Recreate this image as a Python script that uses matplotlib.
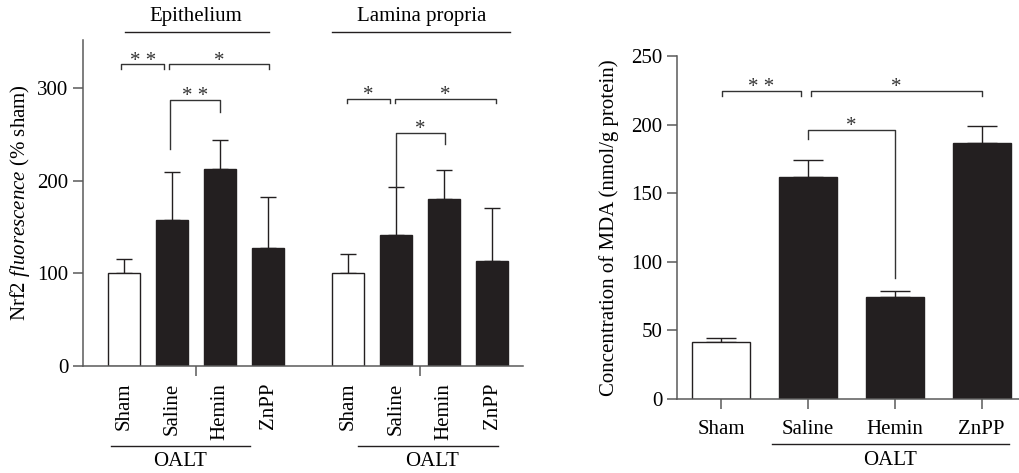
import matplotlib
matplotlib.use("Agg")
import matplotlib.pyplot as plt
import matplotlib.transforms as mtransforms

plt.rcParams['font.family'] = ['Liberation Serif', 'DejaVu Serif']
plt.rcParams['mathtext.fontset'] = 'custom'
plt.rcParams['mathtext.rm'] = 'Liberation Serif'
plt.rcParams['mathtext.it'] = 'Liberation Serif:italic'

# ---------------- data ----------------
groups = ["Sham", "Saline", "Hemin", "ZnPP"]
regions = ["Epithelium", "Lamina propria"]
epi_mean = [100, 158, 212.5, 127.5]
epi_err = [16, 51, 31.5, 55.5]
lp_mean = [100, 141, 180, 113.5]
lp_err = [20.5, 52, 31.5, 57]
mda_mean = [41.8, 162, 74, 186.5]
mda_err = [3, 12.3, 4.5, 12.7]
bar_colors = ["white", "#231f20", "#231f20", "#231f20"]

DARK = "#231f20"
SPINE = "#5a5a5a"
FS = 15

fig = plt.figure(figsize=(10.19, 4.73), dpi=100)

# ---------------- left panel ----------------
axL = fig.add_axes([83/1019, 1-366/473, 440/1019, 326/473])
grp_offset = 4.667
xs1 = [0, 1, 2, 3]
xs2 = [x + grp_offset for x in xs1]
w = 0.67
for xs, m, e in [(xs1, epi_mean, epi_err), (xs2, lp_mean, lp_err)]:
    axL.bar(xs, m, width=w, color=bar_colors, edgecolor=DARK, linewidth=1.0, zorder=2)
    axL.errorbar(xs, m, yerr=[[0]*4, e], fmt='none', ecolor=DARK, elinewidth=1.0,
                 capsize=5.5, capthick=1.0, zorder=1)
axL.set_xlim(-0.854, 8.31)
axL.set_ylim(0, 352)
axL.set_yticks([0, 100, 200, 300])
axL.set_xticks([1.5, 1.5 + grp_offset])
axL.set_xticklabels([])
for s in ['top', 'right']:
    axL.spines[s].set_visible(False)
for s in ['left', 'bottom']:
    axL.spines[s].set_color(SPINE)
    axL.spines[s].set_linewidth(1.1)
axL.tick_params(axis='both', direction='out', length=7, width=1.1, color=SPINE,
                labelsize=FS)
axL.set_ylabel(r"Nrf2 $\mathit{fluorescence}$ (% sham)", fontsize=FS, labelpad=4)

trL = mtransforms.blended_transform_factory(axL.transData, axL.transAxes)
for xs in [xs1, xs2]:
    for x, g in zip(xs, groups):
        axL.text(x, -0.052, g, rotation=90, ha='center', va='top', fontsize=FS,
                 transform=trL, clip_on=False)
# region titles and lines
for (x0, x1, xt), name in zip([(0.02, 3.02, 1.5), (4.33, 8.04, 6.19)], regions):
    axL.plot([x0, x1], [1.0245, 1.0245], color=DARK, lw=1.0, transform=trL, clip_on=False)
    axL.text(xt, 1.072, name, ha='center', va='center', fontsize=FS, transform=trL)
# OALT lines
for x0, x1, xt in [(-0.27, 2.625, 1.17), (4.875, 7.79, 6.41)]:
    axL.plot([x0, x1], [-0.245, -0.245], color=DARK, lw=1.0, transform=trL, clip_on=False)
    axL.text(xt, -0.294, "OALT", ha='center', va='center', fontsize=FS, transform=trL)


def bracket(ax, x0, x1, y, yl, yr, label):
    ax.plot([x0, x0, x1, x1], [yl, y, y, yr], color="#333333", lw=1.0, clip_on=False,
            zorder=3)
    ax.annotate(label, xy=((x0 + x1) / 2, y), xytext=(0, -0.8), textcoords='offset points',
                ha='center', va='baseline', fontsize=FS, color="#333333")

# left brackets
bracket(axL, -0.06, 0.84, 325.6, 321, 321, "* *")
bracket(axL, 0.94, 3.03, 325.6, 321, 321, "*")
bracket(axL, 0.965, 2.0, 287, 234.6, 274, "* *")
bracket(axL, 4.65, 5.54, 288.5, 284, 284, "*")
bracket(axL, 5.65, 7.74, 288.5, 284, 284, "*")
bracket(axL, 5.67, 6.69, 252, 192.8, 240, "*")

# ---------------- right panel ----------------
axR = fig.add_axes([677/1019, 1-399/473, 342/1019, 343/473])
xr = [0, 1, 2, 3]
axR.bar(xr, mda_mean, width=0.67, color=bar_colors, edgecolor=DARK, linewidth=1.0, zorder=2)
axR.errorbar(xr, mda_mean, yerr=[[0]*4, mda_err], fmt='none', ecolor=DARK, elinewidth=1.0,
             capsize=10.5, capthick=1.0, zorder=1)
axR.set_xlim(-0.507, 3.43)
axR.set_ylim(0, 250)
axR.set_yticks([0, 50, 100, 150, 200, 250])
axR.set_xticks(xr)
axR.set_xticklabels(groups)
for s in ['top', 'right']:
    axR.spines[s].set_visible(False)
for s in ['left', 'bottom']:
    axR.spines[s].set_color(SPINE)
    axR.spines[s].set_linewidth(1.1)
axR.tick_params(axis='both', direction='out', length=7, width=1.1, color=SPINE,
                labelsize=FS)
axR.tick_params(axis='x', pad=8)
axR.set_ylabel("Concentration of MDA (nmol/g protein)", fontsize=FS, labelpad=9)
trR = mtransforms.blended_transform_factory(axR.transData, axR.transAxes)
axR.plot([0.59, 3.32], [-0.131, -0.131], color=DARK, lw=1.0, transform=trR, clip_on=False)
axR.text(1.95, -0.178, "OALT", ha='center', va='center', fontsize=FS, transform=trR)

bracket(axR, 0.015, 0.918, 224.7, 221, 221, "* *")
bracket(axR, 1.04, 3.0, 224.7, 221, 221, "*")
bracket(axR, 1.0, 2.0, 196, 189.5, 88, "*")

fig.savefig("out.png", dpi=100)
